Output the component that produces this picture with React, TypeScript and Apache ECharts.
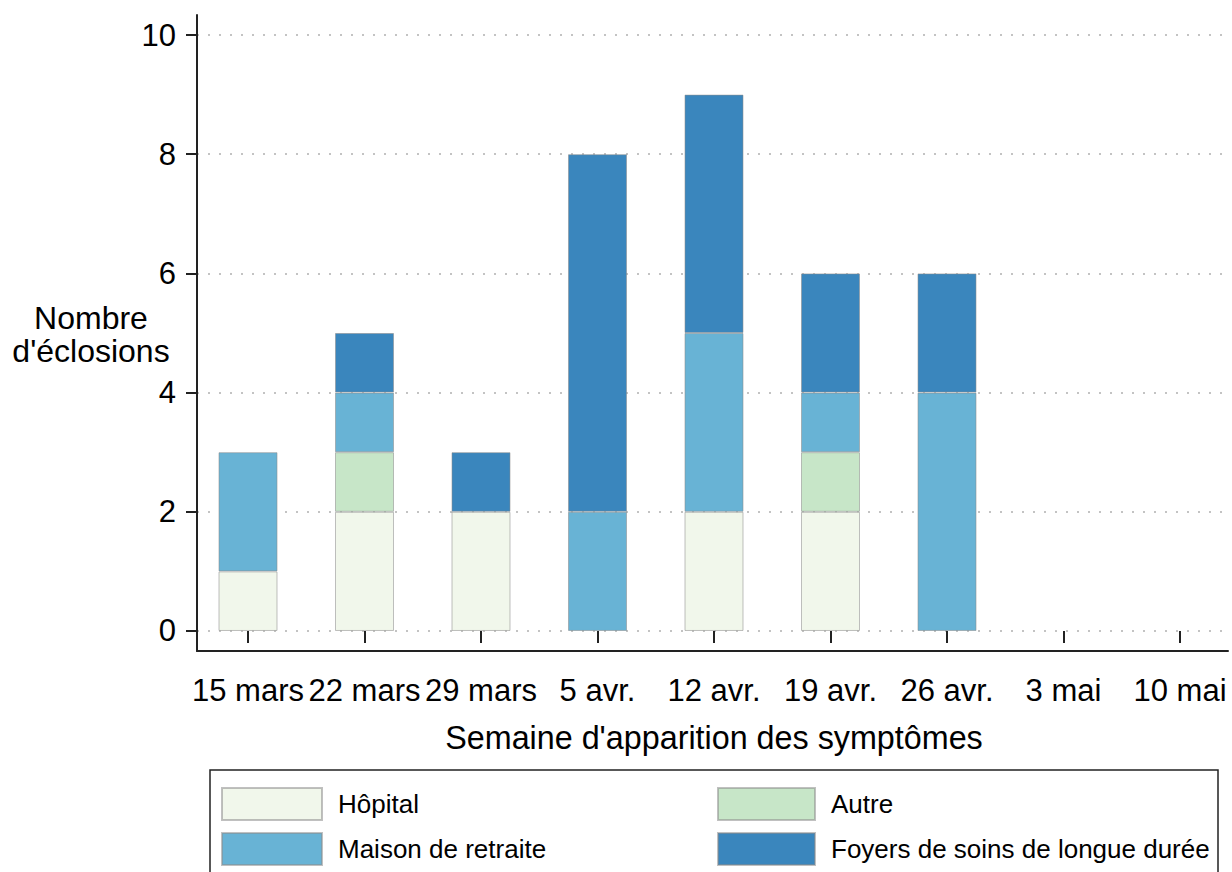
import React, { useEffect, useRef } from 'react';
import * as echarts from 'echarts';

const weeks = ['15 mars', '22 mars', '29 mars', '5 avr.', '12 avr.', '19 avr.', '26 avr.', '3 mai', '10 mai'];
const hopital = [1, 2, 2, 0, 2, 2, 0, 0, 0];
const autre = [0, 1, 0, 0, 0, 1, 0, 0, 0];
const maison = [2, 1, 0, 2, 3, 1, 4, 0, 0];
const foyers = [0, 1, 1, 6, 4, 2, 2, 0, 0];
const yTicks = [0, 2, 4, 6, 8, 10];

const FONT = '"Liberation Sans", Arial, Helvetica, sans-serif';
const Y_MIN = -0.336;
const Y_MAX = 10.336;
const W = 1240;

export default function App() {
  const ref = useRef<HTMLDivElement>(null);
  useEffect(() => {
    document.documentElement.style.overflow = 'hidden';
    document.body.style.margin = '0';
    document.body.style.overflow = 'hidden';
    const chart = echarts.init(ref.current!, null, { renderer: 'svg' });
    const vals = (arr: number[]) => arr.map((v) => (v > 0 ? v : '-'));
    const border = 'rgba(140,140,140,0.55)';
    const mkSeries = (name: string, arr: number[], color: string) => ({
      type: 'bar',
      name,
      stack: 'total',
      barWidth: 59,
      xAxisIndex: 0,
      yAxisIndex: 0,
      z: 3,
      data: vals(arr),
      itemStyle: { color, borderColor: border, borderWidth: 1 },
    });
    const legendBase = {
      orient: 'vertical',
      top: 787,
      itemHeight: 32,
      itemGap: 11,
      padding: 0,
      icon: 'rect',
      selectedMode: false,
      textStyle: { fontSize: 26, color: '#000', fontFamily: FONT, padding: [0, 0, 0, 11] },
    };
    chart.setOption({
      animation: false,
      grid: [
        { left: 189.75, right: W - 189.75 - 1048.5, top: 15, bottom: 221, containLabel: false },
        { left: 197, right: W - 1228, top: 15, bottom: 221, containLabel: false },
      ],
      xAxis: [
        {
          type: 'category',
          gridIndex: 0,
          data: weeks,
          boundaryGap: true,
          axisLine: { show: false },
          axisTick: { show: true, alignWithLabel: true, length: 12, lineStyle: { color: '#222', width: 2 } },
          axisLabel: { interval: 0, fontSize: 31, color: '#000', margin: 24, fontFamily: FONT },
          splitLine: { show: false },
          name: "Semaine d'apparition des symptômes",
          nameLocation: 'middle',
          nameGap: 87,
          nameTextStyle: { fontSize: 32.3, color: '#000', fontFamily: FONT, verticalAlign: 'middle' },
        },
        {
          type: 'value',
          gridIndex: 1,
          min: 0,
          max: 1,
          axisLine: { show: true, onZero: false, lineStyle: { color: '#222', width: 2 } },
          axisTick: { show: false },
          axisLabel: { show: false },
          splitLine: { show: false },
        },
      ],
      yAxis: [
        {
          type: 'value',
          gridIndex: 0,
          min: Y_MIN,
          max: Y_MAX,
          show: false,
        },
        {
          type: 'value',
          gridIndex: 1,
          min: Y_MIN,
          max: Y_MAX,
          axisLine: { show: true, onZero: false, lineStyle: { color: '#222', width: 2 } },
          axisTick: { show: true, length: 11, customValues: yTicks, lineStyle: { color: '#222', width: 2 } },
          axisLabel: { customValues: yTicks, fontSize: 31, color: '#000', margin: 21, fontFamily: FONT },
          splitLine: { show: true, lineStyle: { color: '#b0b0b0', width: 1.5, type: [2, 9] } },
        },
      ],
      legend: [
        { ...legendBase, data: ['Hôpital', 'Maison de retraite'], left: 221, itemWidth: 100 },
        { ...legendBase, data: ['Autre', 'Foyers de soins de longue durée'], left: 717, itemWidth: 97 },
      ],
      graphic: [
        {
          type: 'rect',
          shape: { x: 210, y: 770, width: 1008, height: 130 },
          style: { fill: 'none', stroke: '#222', lineWidth: 1.5 },
          silent: true,
        },
        {
          type: 'text',
          x: 91,
          y: 334,
          silent: true,
          style: {
            text: "Nombre\nd'éclosions",
            fontSize: 32,
            lineHeight: 33,
            fontFamily: FONT,
            fill: '#000',
            align: 'center',
            verticalAlign: 'middle',
          },
        },
      ],
      series: [
        mkSeries('Hôpital', hopital, '#f1f7eb'),
        mkSeries('Autre', autre, '#c7e6c8'),
        mkSeries('Maison de retraite', maison, '#68b3d5'),
        mkSeries('Foyers de soins de longue durée', foyers, '#3a86bd'),
      ],
    });
    return () => chart.dispose();
  }, []);
  return <div ref={ref} style={{ width: W, height: 872 }} />;
}
